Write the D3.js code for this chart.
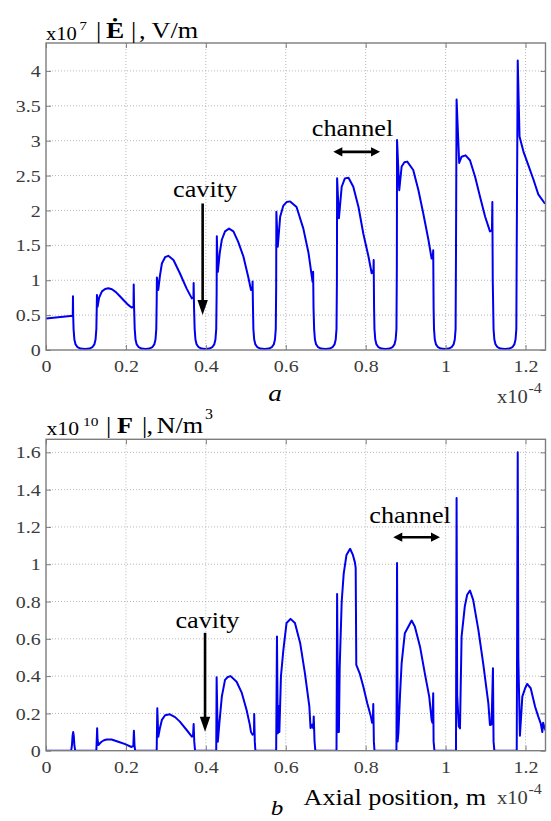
<!DOCTYPE html>
<html><head><meta charset="utf-8">
<script src="https://cdn.jsdelivr.net/npm/d3@7"></script>
<style>
html,body{margin:0;padding:0;background:#fff;}
svg{display:block;font-family:"Liberation Serif","Times New Roman",serif;}
</style></head><body>
<svg id="chart" width="551" height="821"></svg>
<script>
// Axial position in units of 1e-4 m
const axialTicks = [0, 0.2, 0.4, 0.6, 0.8, 1, 1.2];
// |E| in units of 1e7 V/m
const fieldTicks = [0, 0.5, 1, 1.5, 2, 2.5, 3, 3.5, 4];
// |F| in units of 1e10 N/m^3
const forceTicks = [0, 0.2, 0.4, 0.6, 0.8, 1, 1.2, 1.4, 1.6];

// [axial position, |E|]
const fieldProfile = [
  [0,0.45],[0.067,0.49],[0.0675,0.77],[0.068,0.5],
  [0.069,0.3],[0.071,0.15],[0.074,0.08],[0.079,0.04],[0.086,0.02],[0.098,0.015],[0.109,0.02],[0.116,0.04],[0.121,0.08],[0.124,0.15],[0.126,0.3],[0.127,0.6],
  [0.1275,0.79],[0.129,0.62],[0.133,0.75],[0.14,0.84],[0.148,0.875],[0.156,0.885],[0.165,0.87],[0.175,0.83],[0.185,0.77],[0.195,0.71],[0.205,0.65],[0.214,0.61],[0.219,0.62],[0.2195,0.94],[0.2205,0.6],
  [0.222,0.3],[0.224,0.15],[0.227,0.08],[0.232,0.04],[0.239,0.02],[0.249,0.015],[0.259,0.02],[0.266,0.04],[0.271,0.08],[0.274,0.15],[0.276,0.3],[0.277,0.7],
  [0.2775,1.04],[0.281,0.86],[0.285,1.06],[0.29,1.24],[0.298,1.33],[0.306,1.35],[0.319,1.29],[0.335,1.10],[0.352,0.88],[0.365,0.74],[0.369,0.76],[0.3695,0.96],[0.3705,0.6],
  [0.372,0.3],[0.374,0.15],[0.377,0.08],[0.382,0.04],[0.389,0.02],[0.399,0.015],[0.409,0.02],[0.416,0.04],[0.421,0.08],[0.424,0.15],[0.426,0.3],[0.427,0.8],
  [0.4275,1.63],[0.430,1.12],[0.435,1.40],[0.44,1.58],[0.448,1.70],[0.458,1.74],[0.469,1.70],[0.481,1.55],[0.494,1.34],[0.506,1.05],[0.513,0.86],[0.5165,0.88],[0.517,0.98],[0.518,0.6],
  [0.519,0.3],[0.521,0.15],[0.524,0.08],[0.529,0.04],[0.536,0.02],[0.547,0.015],[0.558,0.02],[0.565,0.04],[0.570,0.08],[0.573,0.15],[0.575,0.3],[0.576,0.9],
  [0.5765,1.98],[0.580,1.48],[0.586,1.91],[0.594,2.07],[0.602,2.12],[0.611,2.13],[0.627,2.05],[0.644,1.74],[0.657,1.39],[0.667,0.98],[0.668,1.0],[0.6685,1.12],[0.6695,0.6],
  [0.671,0.3],[0.673,0.15],[0.676,0.08],[0.681,0.04],[0.688,0.02],[0.699,0.015],[0.710,0.02],[0.717,0.04],[0.722,0.08],[0.725,0.15],[0.727,0.3],[0.728,1.0],
  [0.7285,2.46],[0.733,1.89],[0.740,2.34],[0.748,2.46],[0.757,2.47],[0.769,2.34],[0.782,2.05],[0.794,1.67],[0.807,1.34],[0.815,1.10],[0.8195,1.15],[0.820,1.29],[0.821,0.6],
  [0.822,0.3],[0.824,0.15],[0.827,0.08],[0.832,0.04],[0.839,0.02],[0.8495,0.015],[0.860,0.02],[0.867,0.04],[0.872,0.08],[0.875,0.15],[0.877,0.3],[0.878,1.2],
  [0.8785,3.01],[0.884,2.29],[0.890,2.63],[0.897,2.69],[0.904,2.70],[0.919,2.58],[0.932,2.29],[0.944,1.96],[0.957,1.58],[0.965,1.31],[0.968,1.33],[0.969,1.43],[0.970,0.6],
  [0.971,0.3],[0.973,0.15],[0.976,0.08],[0.981,0.04],[0.988,0.02],[0.998,0.015],[1.008,0.02],[1.015,0.04],[1.020,0.08],[1.023,0.15],[1.025,0.3],[1.026,1.4],
  [1.0275,3.59],[1.034,2.68],[1.040,2.77],[1.050,2.79],[1.061,2.72],[1.074,2.48],[1.086,2.20],[1.099,1.91],[1.111,1.70],[1.116,1.72],[1.117,2.12],[1.118,1.0],
  [1.120,0.3],[1.122,0.15],[1.125,0.08],[1.130,0.04],[1.137,0.02],[1.1485,0.015],[1.160,0.02],[1.167,0.04],[1.172,0.08],[1.175,0.15],[1.177,0.3],[1.178,1.5],
  [1.1805,4.15],[1.185,3.06],[1.195,2.84],[1.207,2.65],[1.220,2.44],[1.232,2.23],[1.247,2.11],[1.25,2.10]
];

// [axial position, |F|]
const forceProfile = [
  [0,0],[0.063,0],[0.065,0.03],[0.0665,0.08],[0.068,0.10],[0.0695,0.08],[0.071,0.03],[0.073,0],
  [0.126,0],[0.127,0.06],[0.128,0.12],[0.129,0.06],[0.131,0.03],[0.135,0.04],[0.139,0.048],[0.145,0.056],[0.152,0.06],[0.164,0.06],[0.181,0.048],[0.198,0.035],[0.214,0.02],[0.2185,0.025],[0.220,0.107],[0.2215,0.03],[0.223,0],
  [0.277,0],[0.2785,0.228],[0.281,0.075],[0.285,0.12],[0.29,0.165],[0.298,0.19],[0.31,0.195],[0.323,0.18],[0.335,0.156],[0.352,0.111],[0.365,0.075],[0.368,0.08],[0.3695,0.143],[0.371,0.05],[0.373,0],
  [0.426,0],[0.427,0.394],[0.430,0.048],[0.434,0.15],[0.44,0.29],[0.448,0.38],[0.455,0.395],[0.462,0.40],[0.477,0.37],[0.49,0.31],[0.502,0.218],[0.51,0.14],[0.513,0.10],[0.517,0.086],[0.5205,0.09],[0.521,0.197],[0.5225,0.05],[0.524,0],
  [0.576,0],[0.578,0.612],[0.58,0.093],[0.582,0.24],[0.584,0.10],[0.588,0.40],[0.594,0.54],[0.602,0.685],[0.612,0.707],[0.623,0.685],[0.636,0.578],[0.648,0.415],[0.659,0.238],[0.662,0.122],[0.666,0.14],[0.669,0.12],[0.670,0.184],[0.672,0.05],[0.674,0],
  [0.727,0],[0.7285,0.841],[0.731,0.10],[0.733,0.10],[0.735,0.45],[0.74,0.8],[0.745,0.95],[0.752,1.05],[0.761,1.083],[0.768,1.05],[0.773,1.01],[0.775,0.98],[0.7765,0.46],[0.785,0.415],[0.794,0.344],[0.804,0.254],[0.813,0.183],[0.816,0.15],[0.818,0.16],[0.819,0.25],[0.8205,0.05],[0.822,0],
  [0.877,0],[0.8785,1.006],[0.88,0.05],[0.882,0.10],[0.886,0.30],[0.89,0.47],[0.898,0.63],[0.907,0.666],[0.915,0.698],[0.923,0.666],[0.936,0.558],[0.948,0.415],[0.959,0.29],[0.965,0.165],[0.967,0.15],[0.969,0.308],[0.970,0.05],[0.972,0],
  [1.026,0],[1.0275,1.355],[1.029,0.3],[1.033,0.13],[1.036,0.12],[1.04,0.612],[1.048,0.773],[1.054,0.836],[1.061,0.859],[1.069,0.809],[1.082,0.648],[1.094,0.469],[1.107,0.254],[1.111,0.138],[1.115,0.14],[1.1185,0.442],[1.12,0.05],[1.122,0],
  [1.178,0],[1.1805,1.60],[1.182,0.5],[1.186,0.08],[1.192,0.29],[1.199,0.335],[1.204,0.358],[1.213,0.335],[1.224,0.236],[1.232,0.183],[1.238,0.147],[1.242,0.10],[1.244,0.15],[1.248,0.12],[1.25,0.11]
];

const svg = d3.select('#chart');
const SX = 1.14;          // horizontal stretch of the serif lettering
const LINE = '#0000ee';
const FRAME = '#7d7d7d';

function stretchText(parent, x, y, str, size, o = {}) {
  const t = parent.append('text')
    .attr('transform', `translate(${x},${y}) scale(${SX},1)`)
    .attr('font-size', size)
    .attr('fill', o.fill || '#000')
    .attr('text-anchor', o.anchor || 'start')
    .text(str);
  if (o.bold) t.attr('font-weight', 'bold');
  if (o.italic) t.attr('font-style', 'italic');
  return t;
}

function arrowDown(g, x, y0, y1) {
  g.append('line').attr('x1', x).attr('x2', x).attr('y1', y0).attr('y2', y1 - 12)
    .attr('stroke', '#000').attr('stroke-width', 2.6);
  g.append('path').attr('d', `M${x - 5.2},${y1 - 15}L${x + 5.2},${y1 - 15}L${x},${y1}Z`).attr('fill', '#000');
}

function arrowBoth(g, x0, x1, y) {
  g.append('line').attr('x1', x0 + 6).attr('x2', x1 - 6).attr('y1', y).attr('y2', y)
    .attr('stroke', '#000').attr('stroke-width', 2.6);
  g.append('path').attr('d', `M${x0},${y}L${x0 + 9},${y - 4.6}L${x0 + 9},${y + 4.6}Z`).attr('fill', '#000');
  g.append('path').attr('d', `M${x1},${y}L${x1 - 9},${y - 4.6}L${x1 - 9},${y + 4.6}Z`).attr('fill', '#000');
}

function panel(cfg) {
  const g = svg.append('g');
  const x = d3.scaleLinear().domain([0, 1.25]).range([46, 545.5]);
  const y = d3.scaleLinear().domain([0, cfg.yMax]).range([cfg.bottom, cfg.top]);

  // grid
  g.append('g').selectAll('line').data(axialTicks.filter(t => t > 0)).join('line')
    .attr('x1', d => x(d)).attr('x2', d => x(d)).attr('y1', cfg.top).attr('y2', cfg.bottom)
    .attr('stroke', '#b8b8b8').attr('stroke-width', 1).attr('stroke-dasharray', '1,2');
  g.append('g').selectAll('line').data(cfg.yTicks.filter(t => t > 0)).join('line')
    .attr('x1', 46).attr('x2', 545.5).attr('y1', d => y(d)).attr('y2', d => y(d))
    .attr('stroke', '#b8b8b8').attr('stroke-width', 1).attr('stroke-dasharray', '1,2');

  // curve
  const clipId = 'clip-' + cfg.id;
  svg.append('clipPath').attr('id', clipId).append('rect')
    .attr('x', 46).attr('y', cfg.top).attr('width', 499.5).attr('height', cfg.bottom - cfg.top);
  g.append('path').datum(cfg.data)
    .attr('clip-path', `url(#${clipId})`)
    .attr('d', d3.line().x(d => x(d[0])).y(d => y(d[1])))
    .attr('fill', 'none').attr('stroke', LINE).attr('stroke-width', 2)
    .attr('stroke-linejoin', 'round').attr('stroke-linecap', 'round');

  // axes (ticks point inward on all four sides)
  const fmt = d3.format('~g');
  const style = (sel, labels) => {
    sel.select('.domain').remove();
    sel.selectAll('.tick line').attr('stroke', FRAME);
    sel.selectAll('.tick text').attr('fill', '#3a3a3a').attr('font-size', 17.5)
      .attr('font-family', '"Liberation Serif","Times New Roman",serif');
    if (!labels) sel.selectAll('.tick text').remove();
  };
  g.append('g').attr('transform', `translate(0,${cfg.bottom})`)
    .call(d3.axisBottom(x).tickValues(axialTicks).tickSize(-5).tickPadding(10).tickFormat(fmt))
    .call(s => style(s, true))
    .call(s => s.selectAll('.tick text').attr('transform', `scale(${SX},1)`));
  g.append('g').attr('transform', `translate(0,${cfg.top})`)
    .call(d3.axisTop(x).tickValues(axialTicks).tickSize(-5)).call(s => style(s, false));
  g.append('g').attr('transform', 'translate(46,0)')
    .call(d3.axisLeft(y).tickValues(cfg.yTicks).tickSize(-5).tickPadding(4.6).tickFormat(fmt))
    .call(s => style(s, true))
    .call(s => s.selectAll('.tick text').attr('transform', `scale(${SX},1)`));
  g.append('g').attr('transform', 'translate(545.5,0)')
    .call(d3.axisRight(y).tickValues(cfg.yTicks).tickSize(-5)).call(s => style(s, false));

  g.append('rect').attr('x', 46).attr('y', cfg.top).attr('width', 499.5).attr('height', cfg.bottom - cfg.top)
    .attr('fill', 'none').attr('stroke', FRAME).attr('stroke-width', 1.4);

  return { g, x, y };
}

// ---- panel a: electric field magnitude ----
const a = panel({ id: 'a', data: fieldProfile, yMax: 4.4, yTicks: fieldTicks, top: 43, bottom: 350 });
const ha = svg.append('g');
stretchText(ha, 46, 39.5, 'x10', 18);
stretchText(ha, 79.5, 30, '7', 13);
stretchText(ha, 96, 38, '|', 23);
stretchText(ha, 106, 38, 'Ė', 24, { bold: true });
stretchText(ha, 131, 38, '|', 23);
stretchText(ha, 139, 38, ',', 23);
stretchText(ha, 151.5, 38, 'V/m', 23);
stretchText(ha, 497, 403, 'x10', 18, { fill: '#3a3a3a' });
stretchText(ha, 528.5, 393, '-4', 14, { fill: '#3a3a3a' });
stretchText(ha, 275, 401, 'a', 24, { italic: true, anchor: 'middle' });

stretchText(ha, a.x(0.398), a.y(2.2), 'cavity', 23, { anchor: 'middle' });
arrowDown(ha, a.x(0.392), a.y(2.1), a.y(0.5));
stretchText(ha, a.x(0.767), a.y(3.06), 'channel', 23, { anchor: 'middle' });
arrowBoth(ha, a.x(0.719), a.x(0.836), a.y(2.84));

// ---- panel b: force density magnitude ----
const b = panel({ id: 'b', data: forceProfile, yMax: 1.67, yTicks: forceTicks, top: 439.3, bottom: 750.7 });
const hb = svg.append('g');
stretchText(hb, 46.5, 435, 'x10', 19);
stretchText(hb, 83, 426, '10', 13.5);
stretchText(hb, 106, 433, '|', 23);
stretchText(hb, 117, 433, 'F', 23, { bold: true });
stretchText(hb, 142, 433, '|', 23);
stretchText(hb, 146.5, 433, ',', 23);
stretchText(hb, 156.5, 433, 'N/m', 23);
stretchText(hb, 205, 419, '3', 14);
stretchText(hb, 303.5, 805, 'Axial position, m', 23);
stretchText(hb, 497, 804, 'x10', 18, { fill: '#3a3a3a' });
stretchText(hb, 528.5, 794, '-4', 14, { fill: '#3a3a3a' });
stretchText(hb, 277, 815, 'b', 22, { italic: true, anchor: 'middle' });

stretchText(hb, b.x(0.404), b.y(0.659), 'cavity', 23, { anchor: 'middle' });
arrowDown(hb, b.x(0.398), b.y(0.632), b.y(0.102));
stretchText(hb, b.x(0.911), b.y(1.222), 'channel', 23, { anchor: 'middle' });
arrowBoth(hb, b.x(0.869), b.x(0.986), b.y(1.145));
</script>
</body></html>
